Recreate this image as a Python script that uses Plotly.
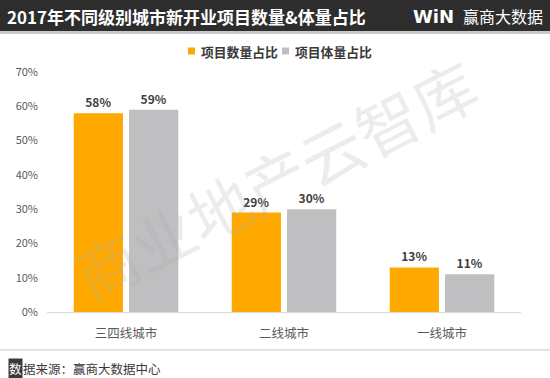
import plotly.graph_objects as go

categories = ["三四线城市", "二线城市", "一线城市"]
count_share = [58, 29, 13]   # 项目数量占比 (%)
area_share = [59, 30, 11]    # 项目体量占比 (%)
series_names = ["项目数量占比", "项目体量占比"]
series_colors = ["#FFA900", "#BFBEC0"]
y_ticks = [0, 10, 20, 30, 40, 50, 60, 70]

W, H = 550, 378
FONT = "Noto Sans CJK SC"


def px(x):
    return x / W


def py(y):
    return 1 - y / H


fig = go.Figure()
for name, vals, color in zip(series_names, [count_share, area_share], series_colors):
    fig.add_trace(go.Bar(
        x=categories, y=[v / 100 for v in vals], name=name,
        marker=dict(color=color, line=dict(width=0)),
        text=[f"{v}%" for v in vals], textposition="outside",
        textfont=dict(size=12, color="#404040", family=FONT, weight="bold"),
        cliponaxis=False, showlegend=False,
    ))

fig.update_layout(
    width=W, height=H,
    margin=dict(l=0, r=0, t=0, b=0, autoexpand=False),
    paper_bgcolor="white", plot_bgcolor="white",
    barmode="group", bargap=0.30, bargroupgap=0.11,
    font=dict(family=FONT, color="#595959"),
    xaxis=dict(domain=[px(47), px(521)], showgrid=False, showline=True, automargin=False,
               linecolor="#D9D9D9", linewidth=1, ticks="",
               tickfont=dict(size=12.5, color="#595959"), ticklabelstandoff=10),
    yaxis=dict(domain=[py(312), py(72)], range=[0, 0.7], tickvals=[t / 100 for t in y_ticks],
               ticktext=[f"{t}%" for t in y_ticks], showgrid=False, zeroline=False,
               automargin=False,
               showline=False, ticks="", tickfont=dict(size=11, color="#595959"),
               ticklabelstandoff=8),
)

shapes = [
    dict(type="rect", xref="paper", yref="paper", x0=0, x1=1, y0=py(31), y1=1,
         fillcolor="#2D2D2D", line=dict(width=0), layer="below"),
    dict(type="rect", xref="paper", yref="paper", x0=0, x1=1, y0=py(34), y1=py(31),
         fillcolor="#C9C9C9", line=dict(width=0), layer="below"),
    dict(type="line", xref="paper", yref="paper", x0=0, x1=1, y0=py(350), y1=py(350),
         line=dict(color="#DADADA", width=1.5)),
]

annotations = [
    dict(text="<b>2017年不同级别城市新开业项目数量&体量占比</b>", xref="paper", yref="paper",
         x=px(5), y=py(16), xanchor="left", yanchor="middle", showarrow=False,
         font=dict(size=17, color="white", family=FONT)),
    dict(text="<b>WiN</b>", xref="paper", yref="paper",
         x=px(411), y=py(16), xanchor="left", yanchor="middle", showarrow=False,
         font=dict(size=18, color="white", family="DejaVu Sans")),
    dict(text="赢商大数据", xref="paper", yref="paper",
         x=px(545), y=py(16), xanchor="right", yanchor="middle", showarrow=False,
         font=dict(size=16, color="white", family=FONT)),
    dict(text="商业地产云智库", xref="paper", yref="paper",
         x=px(274), y=py(178), xanchor="center", yanchor="middle", showarrow=False,
         textangle=-27, font=dict(size=63, color="rgba(170,170,170,0.22)", family=FONT)),
    dict(text="数", xref="paper", yref="paper",
         x=px(8), y=py(368), xanchor="left", yanchor="middle", showarrow=False,
         bgcolor="#3A3A3A", borderpad=0,
         font=dict(size=12.5, color="white", family=FONT)),
    dict(text="据来源：赢商大数据中心", xref="paper", yref="paper",
         x=px(21), y=py(368), xanchor="left", yanchor="middle", showarrow=False,
         font=dict(size=12.5, color="#3a3a3a", family=FONT)),
]

# legend (squares + labels)
legend_x = [188, 282]
for lx, name, color in zip(legend_x, series_names, series_colors):
    shapes.append(dict(type="rect", xref="paper", yref="paper",
                       x0=px(lx), x1=px(lx + 7), y0=py(54.5), y1=py(47.5),
                       fillcolor=color, line=dict(width=0)))
    annotations.append(dict(text=f"<b>{name}</b>", xref="paper", yref="paper",
                            x=px(lx + 11), y=py(51.5), xanchor="left", yanchor="middle",
                            showarrow=False,
                            font=dict(size=12.8, color="#3a3a3a", family=FONT)))

fig.update_layout(shapes=shapes, annotations=annotations)

fig.write_html("out.html", config={"displayModeBar": False},
               post_script="document.body.style.margin='0';document.body.style.overflow='hidden';")
